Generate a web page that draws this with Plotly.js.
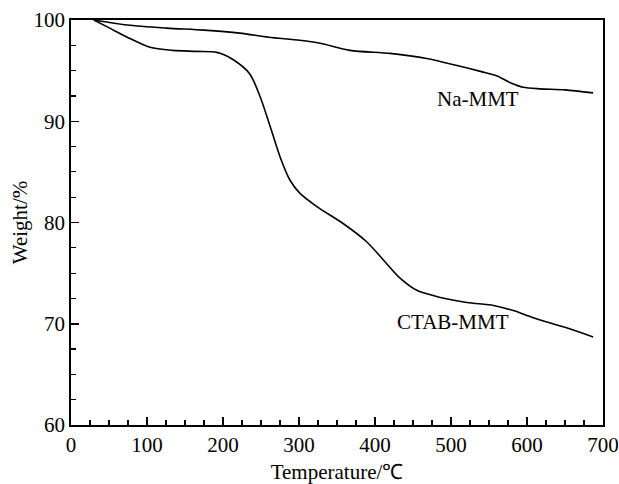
<!DOCTYPE html>
<html>
<head>
<meta charset="utf-8">
<script src="https://cdn.plot.ly/plotly-3.0.1.min.js"></script>
<style>html,body{margin:0;padding:0;background:#fff;}#chart{width:619px;height:484px;}</style>
</head>
<body>
<div id="chart"></div>
<script>
const naTemp = [30, 74, 126, 175, 222, 260, 301, 328, 367, 420, 468, 508, 540, 560, 578, 595, 617, 650, 687];
const naWeight = [100, 99.5, 99.2, 99.0, 98.7, 98.3, 98.0, 97.7, 97.0, 96.7, 96.2, 95.5, 94.9, 94.5, 93.8, 93.35, 93.2, 93.1, 92.8];
const ctabTemp = [30, 51, 74, 104, 134, 165, 192, 213, 235, 249, 262, 275, 288, 301, 323, 358, 389, 411, 433, 455, 486, 521, 556, 582, 608, 652, 687];
const ctabWeight = [100, 99.2, 98.3, 97.3, 97.0, 96.9, 96.8, 96.1, 94.7, 92.4, 89.5, 86.5, 84.2, 82.9, 81.6, 79.9, 78.1, 76.3, 74.5, 73.3, 72.6, 72.1, 71.8, 71.3, 70.6, 69.6, 68.7];
const seriesLabels = ["Na-MMT", "CTAB-MMT"];
const labelTemp = [535, 503];
const labelWeight = [92.2, 70.2];

const fam = "Liberation Serif";
const mkFont = (s) => ({family: fam, size: s, color: "#000"});
const lineStyle = {color: "#000", width: 1.6, shape: "spline", smoothing: 0.8};

const traces = [
  {x: naTemp, y: naWeight, mode: "lines", line: lineStyle, name: seriesLabels[0], hoverinfo: "skip"},
  {x: ctabTemp, y: ctabWeight, mode: "lines", line: lineStyle, name: seriesLabels[1], hoverinfo: "skip"}
];

const layout = {
  width: 619, height: 484,
  margin: {l: 71, r: 16, t: 20, b: 59},
  paper_bgcolor: "#fff", plot_bgcolor: "#fff",
  showlegend: false,
  font: mkFont(21),
  xaxis: {
    range: [0, 700], dtick: 100, tick0: 0,
    ticks: "inside", ticklen: 8, tickwidth: 1.5, tickcolor: "#000",
    minor: {dtick: 25, ticks: "inside", ticklen: 5, tickwidth: 1.2, tickcolor: "#000", showgrid: false},
    showline: true, linecolor: "#000", linewidth: 1.8, mirror: true,
    showgrid: false, zeroline: false,
    tickfont: mkFont(21),
    title: {text: "Temperature/℃", font: mkFont(21), standoff: 10}
  },
  yaxis: {
    range: [60, 100], dtick: 10, tick0: 60,
    ticks: "inside", ticklen: 8, tickwidth: 1.5, tickcolor: "#000",
    minor: {dtick: 2.5, ticks: "inside", ticklen: 5, tickwidth: 1.2, tickcolor: "#000", showgrid: false},
    showline: true, linecolor: "#000", linewidth: 1.8, mirror: true,
    showgrid: false, zeroline: false,
    tickfont: mkFont(21),
    title: {text: "Weight/%", font: mkFont(21), standoff: 0}
  },
  annotations: seriesLabels.map((t, i) => ({
    x: labelTemp[i], y: labelWeight[i], xref: "x", yref: "y",
    text: t, showarrow: false, font: mkFont(21)
  }))
};

Plotly.newPlot("chart", traces, layout, {displayModeBar: false, staticPlot: true});
</script>
</body>
</html>
